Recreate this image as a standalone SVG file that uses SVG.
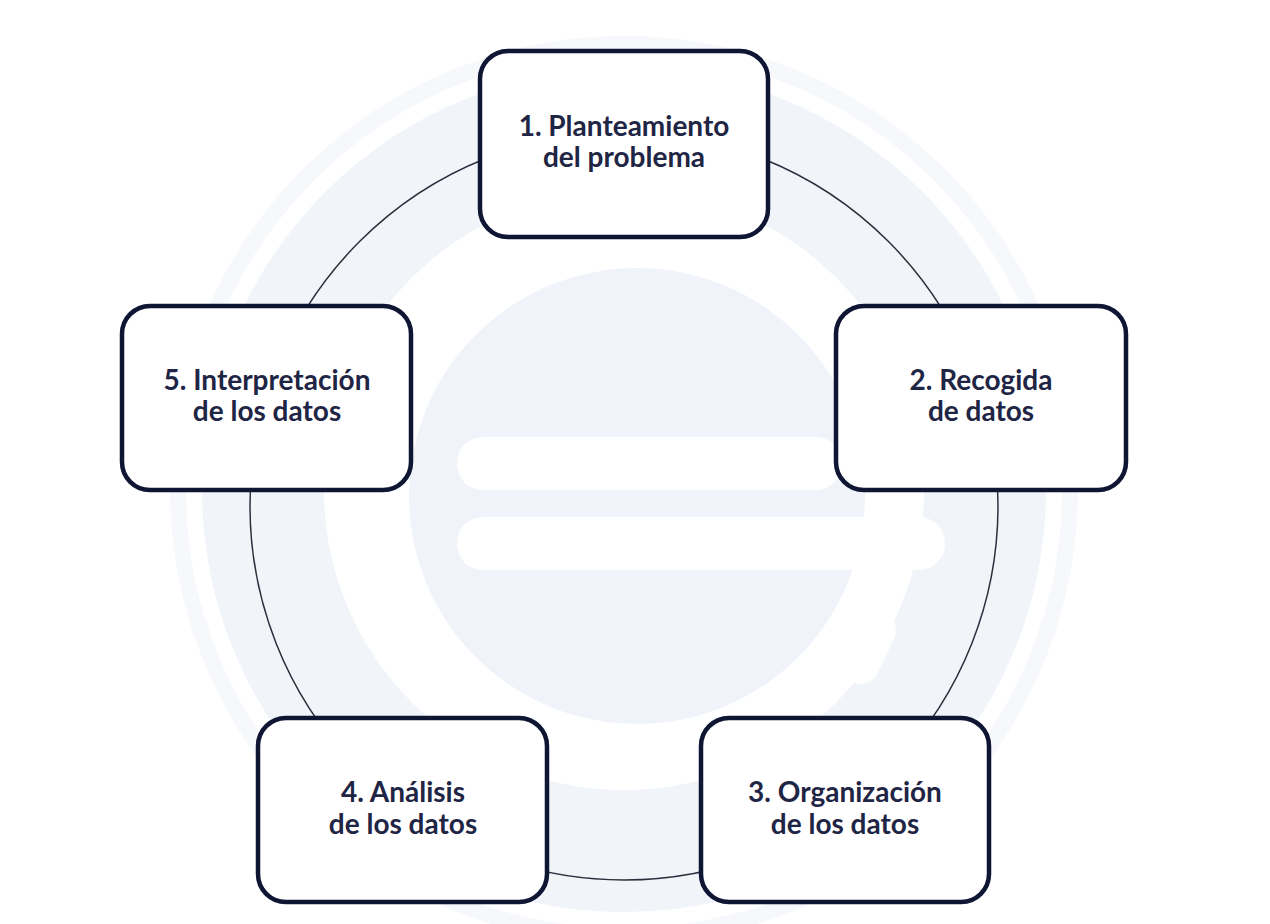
<svg xmlns="http://www.w3.org/2000/svg" width="1270" height="924" viewBox="0 0 1270 924">
<style>
.box{fill:#ffffff;stroke:#0e1634;stroke-width:4.5}
.lbl{font-family:Lato,"Liberation Sans",sans-serif;font-weight:bold;font-size:28px;fill:#1f2544;text-anchor:middle}
.wm{fill:#f0f4fa}
</style>
<rect width="1270" height="924" fill="#ffffff"/>
<g id="watermark">
<circle cx="624" cy="490" r="446" fill="none" stroke="#f6f8fb" stroke-width="16"/>
<circle cx="624" cy="490" r="361" fill="none" stroke="#f1f5fa" stroke-width="122"/>
<circle cx="637" cy="496" r="228" class="wm"/>
<rect x="457" y="437" width="385" height="53" rx="26" fill="#ffffff"/>
<rect x="457" y="517" width="488" height="53" rx="26" fill="#ffffff"/>
<line x1="876" y1="630" x2="860" y2="664" stroke="#ffffff" stroke-width="40" stroke-linecap="round"/>
</g>
<g id="connectors">
<circle cx="624" cy="506" r="374" fill="none" stroke="#2b2f3e" stroke-width="1.5"/>
</g>
<g id="node1">
<rect class="box" x="480" y="51" width="288" height="186" rx="28"/>
<text class="lbl" x="624" y="136">1. Planteamiento</text>
<text class="lbl" x="624" y="167">del problema</text>
</g>
<g id="node2">
<rect class="box" x="836" y="306" width="290" height="184" rx="28"/>
<text class="lbl" x="981" y="390">2. Recogida</text>
<text class="lbl" x="981" y="421">de datos</text>
</g>
<g id="node3">
<rect class="box" x="701" y="718" width="288" height="184" rx="28"/>
<text class="lbl" x="845" y="802">3. Organización</text>
<text class="lbl" x="845" y="834">de los datos</text>
</g>
<g id="node4">
<rect class="box" x="258" y="718" width="289" height="184" rx="28"/>
<text class="lbl" x="403" y="802">4. Análisis</text>
<text class="lbl" x="403" y="834">de los datos</text>
</g>
<g id="node5">
<rect class="box" x="122" y="306" width="289" height="184" rx="28"/>
<text class="lbl" x="267" y="390">5. Interpretación</text>
<text class="lbl" x="267" y="421">de los datos</text>
</g>
</svg>
